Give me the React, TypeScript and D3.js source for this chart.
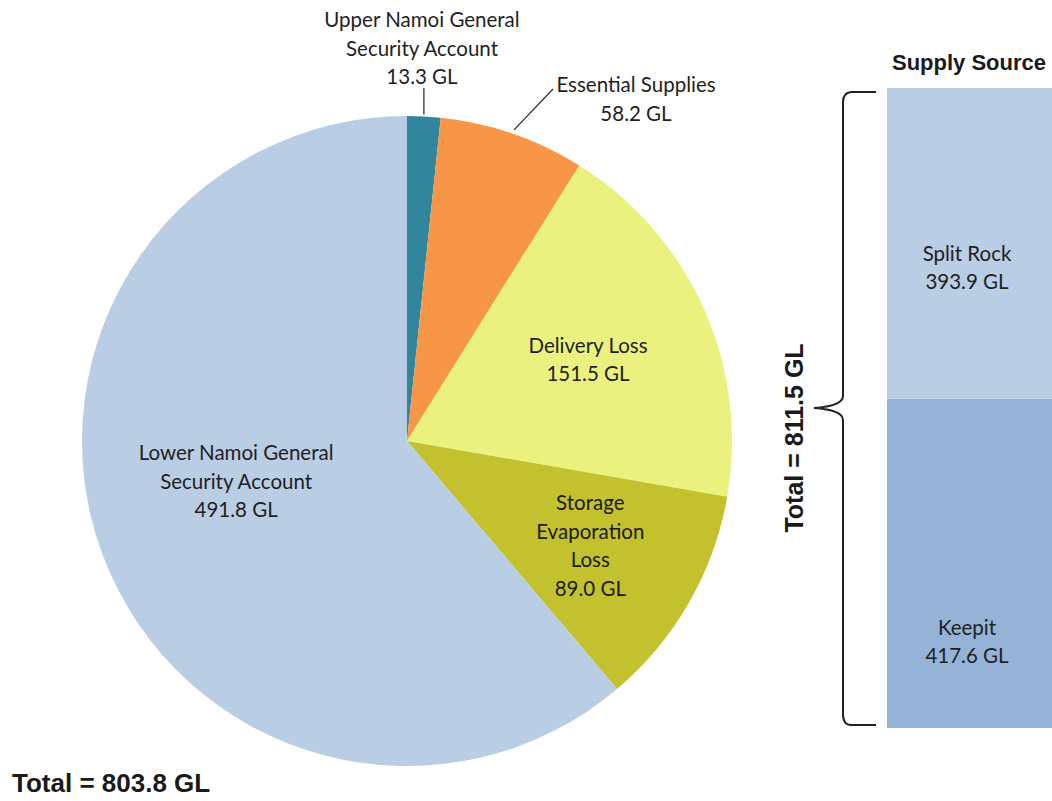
import React from 'react'
import * as d3 from 'd3'

// pie: water use, clockwise from 12 o'clock
const useNames = ['Upper Namoi General Security Account', 'Essential Supplies', 'Delivery Loss', 'Storage Evaporation Loss', 'Lower Namoi General Security Account']
const useValues = [13.3, 58.2, 151.5, 89.0, 491.8]
const useColors = ['#31859c', '#f79646', '#ebf17e', '#c4c12e', '#b9cde5']

// stacked bar: supply source (bottom first)
const sourceNames = ['Keepit', 'Split Rock']
const sourceValues = [417.6, 393.9]
const sourceColors = ['#95b3d7', '#b9cde5']

const W = 1052, H = 801
const labelFont = 'Lato, "Open Sans", sans-serif'
const boldFont = '"Liberation Sans", Arial, sans-serif'
const fs = 20.5

export default function App() {
  // Pie layout
  const cx = 407, cy = 441, R = 325
  const pie = d3.pie<number>().sort(null).value(d => d)
  const arcs = pie(useValues)
  const arc = d3.arc<d3.PieArcDatum<number>>().innerRadius(0).outerRadius(R)
  const total = d3.sum(useValues)

  // label lines for each slice
  const lines = [
    ['Upper Namoi General', 'Security Account', '13.3 GL'],
    ['Essential Supplies', '58.2 GL'],
    ['Delivery Loss', '151.5 GL'],
    ['Storage', 'Evaporation', 'Loss', '89.0 GL'],
    ['Lower Namoi General', 'Security Account', '491.8 GL'],
  ]
  const lh = 28.5

  // inside label placement (radius of label center)
  const insideR = [0, 0, 0.61 * R, 0.65 * R, 0.56 * R]
  const insidePos = arcs.map((a, i) => {
    const m = (a.startAngle + a.endAngle) / 2
    return [cx + insideR[i] * Math.sin(m), cy - insideR[i] * Math.cos(m) + (i == 4 ? -22 : 0)]
  })

  // outside label leaders
  const a0 = arcs[0], a1 = arcs[1]
  const m0 = (a0.startAngle + a0.endAngle) / 2
  const m1 = (a1.startAngle + a1.endAngle) / 2
  const p0 = [cx + R * Math.sin(m0), cy - R * Math.cos(m0)]
  const p1 = [cx + (R + 4) * Math.sin(m1), cy - (R + 4) * Math.cos(m1)]

  // Bar layout
  const barX = 887, barW = 168
  const y = d3.scaleLinear().domain([0, d3.sum(sourceValues)]).range([728, 88])
  const stacked = sourceValues.map((v, i) => {
    const start = d3.sum(sourceValues.slice(0, i))
    return { name: sourceNames[i], v, y0: y(start), y1: y(start + v), color: sourceColors[i] }
  })
  const barTop = y(d3.sum(sourceValues)), barBot = y(0)
  const barMid = (barTop + barBot) / 2

  // curly brace
  const bx = 843, tipX = 814
  const brace = `M ${bx + 33} ${barTop + 4} L ${bx + 8} ${barTop + 4} Q ${bx} ${barTop + 5} ${bx} ${barTop + 14}
    L ${bx} ${barMid - 12} Q ${bx} ${barMid - 2} ${tipX} ${barMid} Q ${bx} ${barMid + 2} ${bx} ${barMid + 12}
    L ${bx} ${barBot - 14} Q ${bx} ${barBot - 3} ${bx + 8} ${barBot - 3} L ${bx + 33} ${barBot - 3}`

  return (
    <svg width={W} height={H} style={{ position: 'absolute', left: 0, top: 0, background: '#fff' }}>
      <g>
        {arcs.map((a, i) => (
          <path key={i} d={arc(a) || ''} transform={`translate(${cx},${cy})`} fill={useColors[i]} />
        ))}
      </g>

      {/* leader lines */}
      <line x1={p0[0]} y1={p0[1] - 2} x2={p0[0]} y2={88} stroke="#333" strokeWidth={1.3} />
      <line x1={p1[0]} y1={p1[1]} x2={553} y2={89} stroke="#333" strokeWidth={1.3} />

      {/* outside labels */}
      <text x={422} y={20} textAnchor="middle" fontFamily={labelFont} fontSize={fs} fill="#1f1f1f">
        {lines[0].map((t, j) => <tspan key={j} x={422} dy={j == 0 ? 7 : lh}>{t}</tspan>)}
      </text>
      <text x={636} y={85} textAnchor="middle" fontFamily={labelFont} fontSize={fs} fill="#1f1f1f">
        {lines[1].map((t, j) => <tspan key={j} x={636} dy={j == 0 ? 7 : lh}>{t}</tspan>)}
      </text>

      {/* inside labels */}
      {[2, 3, 4].map(i => {
        const n = lines[i].length
        const [lx, ly] = insidePos[i]
        return (
          <text key={i} textAnchor="middle" fontFamily={labelFont} fontSize={fs} fill={i == 3 ? '#1a1a08' : '#1f1f1f'}>
            {lines[i].map((t, j) => (
              <tspan key={j} x={lx} y={ly + (j - (n - 1) / 2) * lh + 7}>{t}</tspan>
            ))}
          </text>
        )
      })}

      <text x={12} y={792} fontFamily={boldFont} fontWeight="bold" fontSize={26} fill="#1a1a1a">
        Total = {total.toFixed(1)} GL
      </text>

      {/* supply source bar */}
      <text x={969} y={70} textAnchor="middle" fontFamily={boldFont} fontWeight="bold" fontSize={22} fill="#1a1a1a">Supply Source</text>
      {stacked.map((s, i) => (
        <rect key={i} x={barX} y={s.y1} width={barW} height={s.y0 - s.y1} fill={s.color} />
      ))}
      {stacked.map((s, i) => {
        const ly = i == 0 ? s.y1 + (s.y0 - s.y1) * 0.74 : s.y1 + (s.y0 - s.y1) * 0.58
        return (
          <text key={i} textAnchor="middle" fontFamily={labelFont} fontSize={fs} fill="#1f1f1f">
            <tspan x={967} y={ly - 14 + 7}>{s.name}</tspan>
            <tspan x={967} y={ly + 14 + 7}>{s.v.toFixed(1)} GL</tspan>
          </text>
        )
      })}

      <path d={brace} fill="none" stroke="#222" strokeWidth={2} />
      <text transform={`translate(803, ${barMid + 30}) rotate(-90)`} textAnchor="middle" fontFamily={boldFont}
        fontWeight="bold" fontSize={25} fill="#1a1a1a">
        Total = {d3.sum(sourceValues).toFixed(1)} GL
      </text>
    </svg>
  )
}
